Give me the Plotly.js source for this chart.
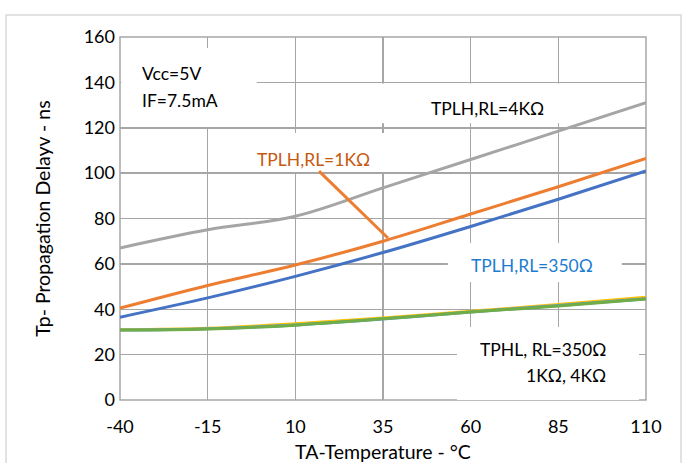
<!DOCTYPE html>
<html>
<head>
<meta charset="utf-8">
<script src="https://cdn.plot.ly/plotly-3.0.1.min.js"></script>
<style>html,body{margin:0;padding:0;background:#fff;}#chart{width:694px;height:463px;}</style>
</head>
<body>
<div id="chart"></div>
<script>
// Temperature categories (°C)
const temps = [-40, -15, 10, 35, 60, 85, 110];
// TPLH series (ns)
const tplh4k   = [67, 75, 81, 93.5, 106, 118.5, 131];
const tplh1k   = [40.5, 50.5, 59.5, 70, 82, 94, 106.5];
const tplh350  = [36.5, 45, 54.5, 65, 76.5, 88.5, 101];
// TPHL series (ns)
const tphl4k   = [31, 31.6, 33.6, 36.1, 39.1, 42.1, 45.3];
const tphl350  = [30.8, 31.4, 33.1, 35.7, 38.8, 41.6, 44.6];
const tphl1k   = [30.8, 31.3, 33, 35.8, 38.8, 41.4, 44.5];
// Axis ticks
const xTicks = [-40, -15, 10, 35, 60, 85, 110];
const yTicks = [0, 20, 40, 60, 80, 100, 120, 140, 160];

const FONT = 'Lato, "Liberation Sans", sans-serif';
const GRID = '#A6A6A6';

function tr(y, color) {
  return {x: temps, y: y, type: 'scatter', mode: 'lines',
          line: {color: color, width: 3, shape: 'spline', smoothing: 1},
          hoverinfo: 'skip', showlegend: false};
}

const data = [
  tr(tplh4k, '#A5A5A5'),
  tr(tplh1k, '#ED7D31'),
  tr(tplh350, '#4472C4'),
  tr(tphl4k, '#FFC000'),
  tr(tphl350, '#5B9BD5'),
  tr(tphl1k, '#70AD47')
];

function box(x0, x1, y0, y1) {
  return {type: 'rect', xref: 'x', yref: 'y', x0: x0, x1: x1, y0: y0, y1: y1,
          fillcolor: '#FFFFFF', line: {width: 0}, layer: 'between'};
}

function ann(text, x, y, xanchor, color) {
  return {text: text, x: x, y: y, xref: 'x', yref: 'y', xanchor: xanchor, yanchor: 'middle',
          showarrow: false, font: {family: FONT, size: 17.5, color: color || '#000000'}};
}

const layout = {
  width: 694, height: 463,
  margin: {l: 120, r: 48, t: 37, b: 63},
  paper_bgcolor: '#FFFFFF', plot_bgcolor: '#FFFFFF',
  font: {family: FONT, color: '#000000'},
  xaxis: {
    range: [-40, 110], tickvals: xTicks, ticktext: xTicks.map(String),
    showgrid: true, gridcolor: GRID, gridwidth: 1.5, zeroline: false, showline: false,
    ticks: '', tickfont: {family: FONT, size: 18, color: '#000'}, ticklabelstandoff: 14,
    title: {text: 'TA-Temperature - °C', font: {family: FONT, size: 19.5, color: '#000'}, standoff: 9},
    automargin: false, fixedrange: true
  },
  yaxis: {
    range: [0, 160], tickvals: yTicks, ticktext: yTicks.map(String),
    showgrid: true, gridcolor: GRID, gridwidth: 1.5, zeroline: false, showline: false,
    ticks: '', tickfont: {family: FONT, size: 18, color: '#000'}, ticklabelstandoff: 4,
    title: {text: 'Tp- Propagation Delayv - ns', font: {family: FONT, size: 19.5, color: '#000'}, standoff: 27},
    automargin: false, fixedrange: true
  },
  shapes: [
    // outer chart border
    {type: 'rect', xref: 'paper', yref: 'paper', x0: -0.2167, x1: 1.0665, y0: -0.2, y1: 1.0606,
     line: {color: '#D9D9D9', width: 1.5}, fillcolor: 'rgba(0,0,0,0)', layer: 'below'},
    // plot-area frame (edge gridlines)
    {type: 'rect', xref: 'paper', yref: 'paper', x0: 0, x1: 1, y0: 0, y1: 1,
     line: {color: GRID, width: 1.5}, fillcolor: 'rgba(0,0,0,0)', layer: 'below'},
    box(-39.6, -1, 120.3, 155.1),
    box(34.1, 86.3, 122, 139.5),
    box(-5.8, 35.9, 100.5, 117.7),
    box(53.5, 103.1, 52, 69.2),
    box(56.1, 108, -1.3, 32.2),
    {type: 'line', xref: 'x', yref: 'y', x0: 16.75, y0: 100.9, x1: 36.4, y1: 71.4,
     line: {color: '#ED7D31', width: 3}, layer: 'above'}
  ],
  annotations: [
    ann('Vcc=5V', -34.3, 143.7, 'left'),
    ann('IF=7.5mA', -34.3, 132.2, 'left'),
    ann('TPLH,RL=4KΩ', 64.66, 128.7, 'center'),
    ann('TPLH,RL=1KΩ', 15.2, 106.2, 'center', '#C65911'),
    ann('TPLH,RL=350Ω', 77.35, 59.3, 'center', '#1C7DD0'),
    ann('TPHL, RL=350Ω', 99.2, 22.3, 'right'),
    ann('1KΩ, 4KΩ', 99.2, 11.0, 'right')
  ]
};

Plotly.newPlot('chart', data, layout, {staticPlot: true, displayModeBar: false});
</script>
</body>
</html>
